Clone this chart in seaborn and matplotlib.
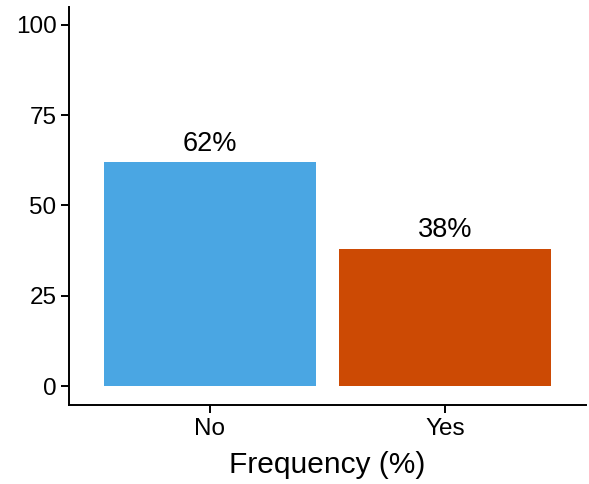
import matplotlib
matplotlib.use("Agg")
import matplotlib.pyplot as plt
import seaborn as sns
import pandas as pd

categories = ["No", "Yes"]
values = [62, 38]
labels = ["62%", "38%"]
colors = ["#4AA6E3", "#CC4A04"]
yticks = [0, 25, 50, 75, 100]

sns.set_style("ticks")
plt.rcParams["font.family"] = ["Liberation Sans", "DejaVu Sans"]

df = pd.DataFrame({"cat": categories, "val": values})
fig = plt.figure(figsize=(5.89, 4.84), dpi=100)
ax = fig.add_axes([0.117, 0.163, 0.878, 0.823])
sns.barplot(data=df, x="cat", y="val", hue="cat", palette=colors, width=0.9,
            legend=False, ax=ax, saturation=1, linewidth=0)
for i, (v, t) in enumerate(zip(values, labels)):
    ax.text(i, v + 1.5, t, ha="center", va="bottom", fontsize=19.5, color="black")
ax.set_xlim(-0.6, 1.6)
ax.set_ylim(-5.25, 105)
ax.set_yticks(yticks)
ax.set_yticklabels([str(y) for y in yticks])
ax.tick_params(axis="both", labelsize=17.5, colors="black", width=1.4, length=6, pad=3)
ax.set_xlabel("Frequency (%)", fontsize=21.5, color="black", labelpad=8)
ax.set_ylabel("")
for s in ["left", "bottom"]:
    ax.spines[s].set_linewidth(1.4)
    ax.spines[s].set_color("black")
sns.despine(ax=ax)
fig.savefig("out.png", dpi=100)
